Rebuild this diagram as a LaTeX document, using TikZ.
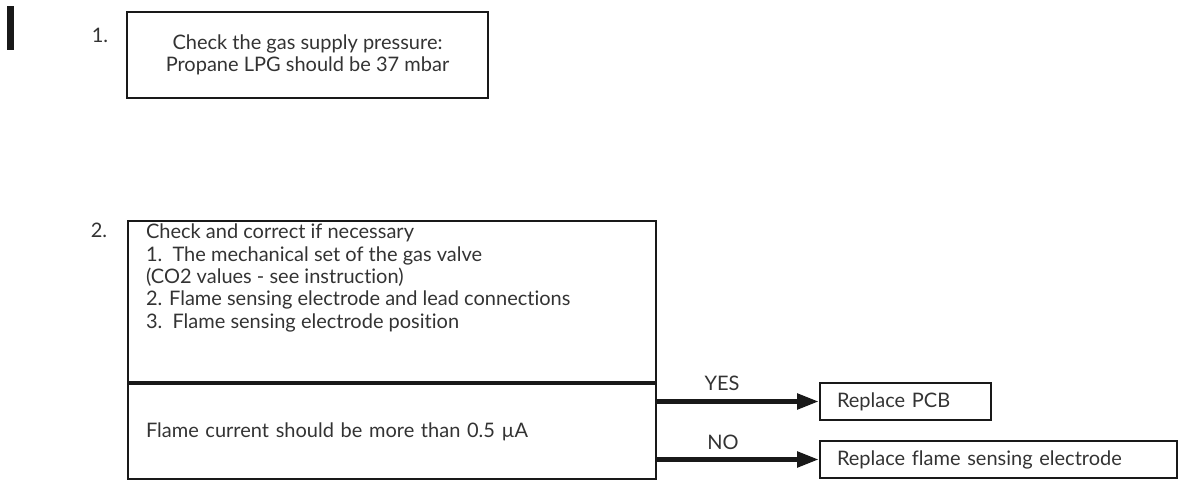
\documentclass[tikz,border=0pt]{standalone}
\usepackage{fontspec}
\setmainfont{Lato}[Ligatures=NoCommon]
\usetikzlibrary{arrows.meta,positioning}

\begin{document}
\begin{tikzpicture}[x=0.5pt, y=-0.5pt, >={Triangle[length=11pt,width=7.5pt]},
  box/.style={draw=black!90, line width=1pt, inner ysep=0pt, text=black!80,
    font=\fontsize{10}{11.2}\selectfont},
  lbl/.style={text=black!80, font=\fontsize{10}{11.2}\selectfont},
  branch/.style={->, line width=2.6pt, black!90}]
\useasboundingbox (0,0) rectangle (1179,481);
% side bar
\fill [black!90] (7,6) rectangle (14,50);

% step 1: supply pressure
\node [lbl] (num1) at (100,35) {1.};
\node [box, minimum width=180.5pt, minimum height=43pt, align=center] (pressure) at (307.5,55)
  {Check the gas supply pressure:\\Propane LPG should be 37 mbar};

% step 2: checks and flame current
\node [lbl] (num2) at (99,230) {2.};
\node [box, inner xsep=9pt, anchor=north] (check) at (392,220)
  {\parbox[c][80.5pt][t]{246pt}{\vspace*{1.5pt}Check and correct if necessary\\
   1.\ \ The mechanical set of the gas valve\\
   (CO2 values - see instruction)\\
   2. Flame sensing electrode and lead connections\\
   3.\ \ Flame sensing electrode position}};
\node [box, inner xsep=9pt, text width=246pt, minimum height=47.5pt, align=left, anchor=north] (current)
  at (check.south) {Flame current should be more than 0.5 µA};
\draw [line width=2pt, black!90] (check.south west) -- (check.south east);

% outcomes
\node [box, inner xsep=8.5pt, text width=68.5pt, minimum height=18.5pt, align=left] (pcb) at (905.5,401.5) {Replace PCB};
\node [box, inner xsep=8.5pt, text width=161.5pt, minimum height=18.5pt, align=left] (electrode) at (998.5,459.5) {Replace flame sensing electrode};

\draw [branch] (current.east |- pcb.west) -- (pcb.west);
\draw [branch] (current.east |- electrode.west) -- (electrode.west);
\node [lbl] (yes) at (722,383) {YES};
\node [lbl] (no) at (723,442) {NO};
\end{tikzpicture}
\end{document}
